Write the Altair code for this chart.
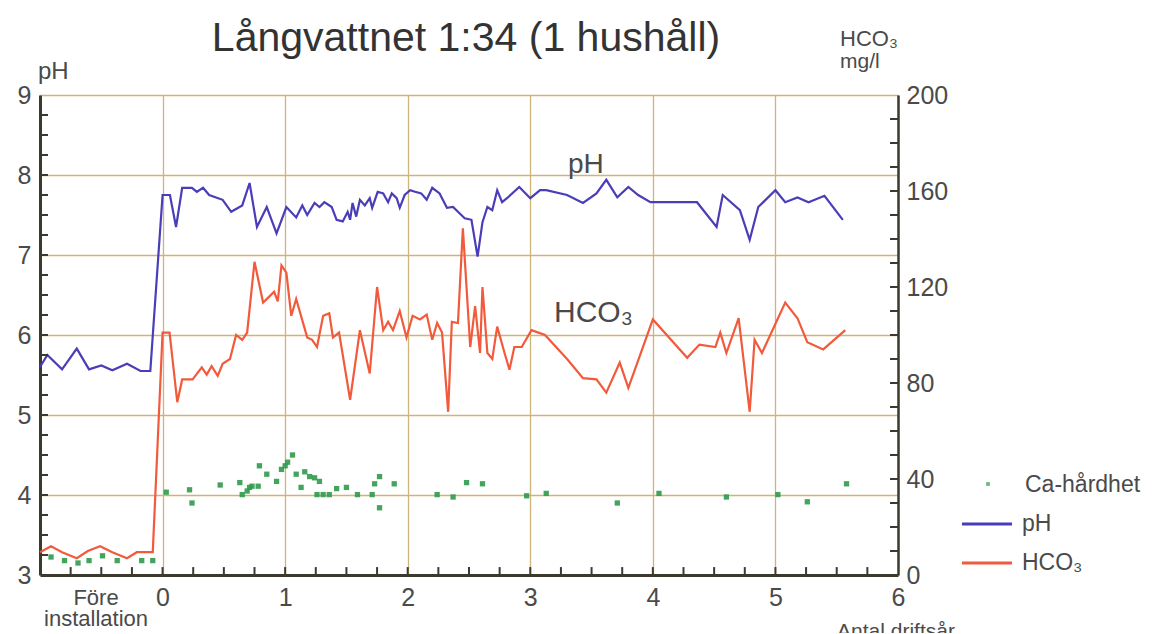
import altair as alt
import pandas as pd
import numpy as np

TITLE = "Långvattnet 1:34 (1 hushåll)"

ph_year = [-1.0, -0.94, -0.82, -0.70, -0.60, -0.50, -0.41, -0.29, -0.18, -0.10,
           0.0, 0.06, 0.11, 0.16, 0.24, 0.28, 0.33, 0.38, 0.49, 0.56, 0.65, 0.71, 0.77,
           0.85, 0.93, 1.01, 1.09, 1.14, 1.18, 1.24, 1.28, 1.32, 1.38, 1.42, 1.47, 1.51,
           1.53, 1.55, 1.58, 1.61, 1.65, 1.69, 1.71, 1.755, 1.80, 1.84, 1.87, 1.91, 1.935,
           1.975, 2.02, 2.06, 2.11, 2.155, 2.20, 2.26, 2.32, 2.37, 2.41, 2.465, 2.52, 2.57,
           2.61, 2.65, 2.69, 2.73, 2.77, 2.81, 2.91, 3.0, 3.08, 3.13, 3.30, 3.43, 3.54,
           3.62, 3.71, 3.80, 3.88, 3.98, 4.36, 4.52, 4.57, 4.71, 4.79, 4.86, 5.0, 5.08,
           5.18, 5.27, 5.40, 5.55]
ph_value = [5.6, 5.75, 5.57, 5.83, 5.57, 5.62, 5.56, 5.64, 5.55, 5.55,
            7.75, 7.75, 7.35, 7.84, 7.84, 7.79, 7.84, 7.75, 7.69, 7.54, 7.62, 7.9, 7.35,
            7.6, 7.27, 7.6, 7.47, 7.62, 7.5, 7.65, 7.6, 7.66, 7.6, 7.44, 7.42, 7.54,
            7.44, 7.65, 7.48, 7.69, 7.62, 7.71, 7.59, 7.79, 7.77, 7.66, 7.77, 7.71, 7.59,
            7.75, 7.81, 7.79, 7.77, 7.69, 7.84, 7.77, 7.59, 7.6, 7.54, 7.46, 7.44, 6.98,
            7.41, 7.6, 7.56, 7.81, 7.66, 7.71, 7.85, 7.71, 7.81, 7.81, 7.75, 7.65, 7.77,
            7.94, 7.72, 7.85, 7.75, 7.66, 7.66, 7.35, 7.75, 7.56, 7.19, 7.6, 7.81, 7.66,
            7.72, 7.66, 7.74, 7.44]

hco3_year = [-1.0, -0.91, -0.82, -0.70, -0.61, -0.51, -0.41, -0.29, -0.21, -0.08,
             0.0, 0.057, 0.12, 0.16, 0.245, 0.32, 0.36, 0.40, 0.45, 0.49, 0.55, 0.60, 0.65,
             0.69, 0.75, 0.82, 0.87, 0.91, 0.94, 0.97, 1.01, 1.05, 1.09, 1.18, 1.22, 1.26,
             1.31, 1.36, 1.39, 1.44, 1.53, 1.61, 1.69, 1.75, 1.80, 1.84, 1.88, 1.935, 1.99,
             2.04, 2.10, 2.155, 2.20, 2.24, 2.28, 2.33, 2.36, 2.41, 2.45, 2.51, 2.55, 2.59,
             2.61, 2.65, 2.69, 2.73, 2.79, 2.83, 2.87, 2.93, 3.01, 3.12, 3.30, 3.43, 3.54,
             3.62, 3.73, 3.80, 4.0, 4.28, 4.38, 4.51, 4.55, 4.60, 4.70, 4.79, 4.83, 4.89,
             5.08, 5.18, 5.26, 5.39, 5.57]
hco3_value = [9.5, 12, 9.5, 7, 10, 12, 9.5, 7, 9.5, 9.5,
              101, 101, 72, 81.5, 81.5, 86.5, 83.5, 87, 83, 88, 90, 100, 98,
              101, 130.5, 113.5, 116, 118, 114, 129, 126, 108, 115, 99, 98, 95,
              108, 109, 99, 101, 73, 102, 84, 120, 102, 105.5, 102, 110, 99,
              108, 106.5, 108.5, 98, 105, 101, 68, 105.5, 105, 144.5, 95, 112, 92.5,
              120, 92.5, 90, 103.5, 92.5, 85.5, 95, 95, 102, 100, 90, 82, 81.5,
              76, 88.5, 78, 106.5, 90.5, 96, 95, 101, 92.5, 107, 68, 98, 92.5,
              113.5, 107, 97, 94, 102]

ca_year = [-0.91, -0.80, -0.69, -0.60, -0.49, -0.37, -0.17, -0.08,
           0.03, 0.22, 0.24, 0.47, 0.63, 0.65, 0.69, 0.71, 0.73, 0.78, 0.79, 0.85, 0.93,
           0.97, 1.0, 1.02, 1.06, 1.09, 1.13, 1.16, 1.20, 1.24, 1.28, 1.26, 1.31, 1.36,
           1.42, 1.50, 1.59, 1.71, 1.73, 1.77, 1.77, 1.89, 2.24, 2.37, 2.48, 2.61, 2.97,
           3.13, 3.71, 4.05, 4.60, 5.02, 5.26, 5.58]
ca_value = [7.5, 6, 5, 6, 8, 6, 6, 6,
            34.5, 35.5, 30, 37.5, 38.5, 33.5, 35, 36.5, 37, 37, 45.5, 42, 39,
            44, 45.5, 47, 50, 42, 36.5, 43, 41, 40.5, 39, 33.5, 33.5, 33.5,
            36, 36.5, 33.5, 33.5, 38, 41, 28, 38, 33.5, 32.5, 38.5, 38, 33,
            34, 30, 34, 32.5, 33.5, 30.5, 38]

x_labels = [0, 1, 2, 3, 4, 5, 6]
ph_labels = [3, 4, 5, 6, 7, 8, 9]
hco3_labels = [0, 40, 80, 120, 160, 200]
x_minor = [-0.75, -0.5, -0.25, 0.0, 0.25, 0.5, 0.75, 1.0, 1.25, 1.5, 1.75, 2.0, 2.25, 2.5, 2.75,
           3.0, 3.25, 3.5, 3.75, 4.0, 4.25, 4.5, 4.75, 5.0, 5.25, 5.5, 5.75]
ph_minor = [float(v) for v in np.arange(3.25, 9.0, 0.25)]
hco3_minor = [float(v) for v in np.arange(10, 200, 10)]

legend_labels = ["Ca-hårdhet", "pH", "HCO₃"]

W, H = 858, 480
BG = "#FDF8B6"
GRID = "#CDB57A"
FRAME = "#3C3A2C"
TXT = "#4A4A4A"
BLUE = "#4A3DB8"
RED = "#F25A3C"
GREEN = "#2F9A4C"
FONT = "Liberation Sans"

# The bar layer makes Vega-Lite pad the x scale by 5 px on each side (padding widens the
# domain), so the nominal domain is pulled in by 5 px each side: the padded scale then
# runs exactly from -1 at the left edge to 6 at the right edge.
PAD = 5
EDGE = PAD * 7 / (W - 2 * PAD) / (1 + 2 * PAD / (W - 2 * PAD))
xs = alt.Scale(domain=[-1 + EDGE, 6 - EDGE], nice=False, zero=False)
phs = alt.Scale(domain=[3, 9], nice=False, zero=False)
hs = alt.Scale(domain=[0, 200], nice=False)

ph_df = pd.DataFrame({"x": ph_year, "v": ph_value})
h_df = pd.DataFrame({"x": hco3_year, "v": hco3_value})
ca_df = pd.DataFrame({"x": ca_year, "v": ca_value})
# minor ticks along the bottom edge: short segments in the HCO3 scale (0 -> 3.3 mg/l = 8 px)
xt_df = pd.DataFrame({"tx": x_minor, "b0": [0.0] * len(x_minor), "b1": [3.3] * len(x_minor)})

x_axis = alt.Axis(values=x_labels, format="d", title=None, grid=True, gridColor=GRID, gridWidth=1.3,
                  ticks=False, labelFontSize=25, labelColor=TXT, labelPadding=10, labelFlush=False,
                  domainColor=FRAME, domainWidth=3, labelFont=FONT)

ph_line = alt.Chart(ph_df).mark_line(color=BLUE, strokeWidth=2.2).encode(
    x=alt.X("x:Q", scale=xs, axis=x_axis),
    y=alt.Y("v:Q", scale=phs, axis=alt.Axis(orient="left", values=ph_labels, format="d", title=None,
            grid=True, gridColor=GRID, gridWidth=1.3, ticks=False, labelFontSize=25,
            labelColor=TXT, labelPadding=9, domainColor=FRAME, domainWidth=3, labelFont=FONT)),
)

h_line = alt.Chart(h_df).mark_line(color=RED, strokeWidth=2.2).encode(
    x=alt.X("x:Q", scale=xs),
    y=alt.Y("v:Q", scale=hs, axis=alt.Axis(orient="right", values=hco3_labels, format="d", title=None,
            grid=False, ticks=False, labelFontSize=25, labelColor=TXT, labelPadding=8,
            domainColor=FRAME, domainWidth=2.5, labelFont=FONT)),
)

ca_pts = alt.Chart(ca_df).mark_square(color=GREEN, size=28, opacity=0.9).encode(
    x=alt.X("x:Q", scale=xs),
    y=alt.Y("v:Q", scale=hs, axis=None),
)

left_ticks = alt.Chart(pd.DataFrame({"v": ph_minor})).mark_rule(color=FRAME, strokeWidth=2).encode(
    y=alt.Y("v:Q", scale=phs, axis=None), x=alt.value(0), x2=alt.value(8))
right_ticks = alt.Chart(pd.DataFrame({"v": hco3_minor})).mark_rule(color=FRAME, strokeWidth=2).encode(
    y=alt.Y("v:Q", scale=hs, axis=None), x=alt.value(W - 8), x2=alt.value(W))
bottom_ticks = alt.Chart(xt_df).mark_bar(color=FRAME, width=2).encode(
    x=alt.X("tx:Q", scale=xs),
    y=alt.Y("b0:Q", scale=hs, axis=None), y2="b1:Q")


def txt(label, x, y, size, align="left", baseline="middle", color=TXT):
    return alt.Chart(pd.DataFrame({"t": [label]})).mark_text(
        align=align, baseline=baseline, fontSize=size, color=color, font=FONT
    ).encode(text="t:N", x=alt.value(x), y=alt.value(y))


texts = [
    txt(TITLE, 426, -44, 41, align="center", baseline="alphabetic", color="#333333"),
    txt("pH", -2, -23, 24),
    txt("HCO₃", 800, -56, 22),
    txt("mg/l", 800, -33, 21),
    txt("pH", 528, 70, 28),
    txt("HCO₃", 514, 218, 30),
    txt("Före", 56, 503, 22, align="center"),
    txt("installation", 56, 524, 22, align="center"),
    txt("Antal driftsår", 856, 537, 21, align="center"),
    txt(legend_labels[0], 985, 390, 23),
    txt(legend_labels[1], 982, 429, 23),
    txt(legend_labels[2], 982, 468, 23),
]

leg_sq = alt.Chart(pd.DataFrame({"t": [legend_labels[0]]})).mark_square(color=GREEN, size=14).encode(
    x=alt.value(948), y=alt.value(389))
leg_blue = alt.Chart(pd.DataFrame({"t": [legend_labels[1]]})).mark_rule(color=BLUE, strokeWidth=3).encode(
    x=alt.value(922), x2=alt.value(972), y=alt.value(429))
leg_red = alt.Chart(pd.DataFrame({"t": [legend_labels[2]]})).mark_rule(color=RED, strokeWidth=3).encode(
    x=alt.value(922), x2=alt.value(972), y=alt.value(468))

chart = alt.layer(
    bottom_ticks, ph_line, h_line, ca_pts, left_ticks, right_ticks,
    leg_sq, leg_blue, leg_red, *texts
).resolve_scale(y="independent").properties(
    width=W, height=H,
    autosize=alt.AutoSizeParams(type="none"),
    padding={"left": 32, "top": 87, "right": 255, "bottom": 58},
    background="white",
).configure_view(
    fill=BG, stroke=FRAME, strokeWidth=2
).configure(font=FONT)

chart.save("out.html", embed_options={"renderer": "svg", "actions": False})
